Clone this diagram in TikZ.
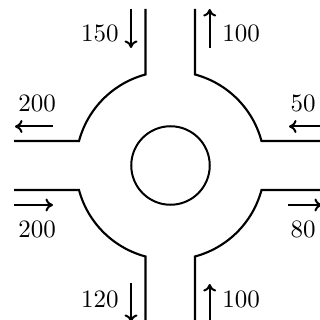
\documentclass[tikz,border=0pt]{standalone}
\usetikzlibrary{arrows.meta,positioning}
\begin{document}
\begin{tikzpicture}[x=0.4pt,y=0.4pt,road/.style={line width=0.85pt,line join=miter},arr/.style={line width=0.8pt,-{To[length=3pt,width=5.2pt]}},lab/.style={inner sep=0pt}]
\useasboundingbox (0,0) rectangle (320,320);
% roads
\draw[road] (145.5,311)--(145.5,245.5) arc[start angle=105,end angle=165,radius=94]--(14,179);
\draw[road] (195,311)--(195,245.5) arc[start angle=75,end angle=15,radius=94]--(322,179);
\draw[road] (14,130)--(79,130) arc[start angle=195,end angle=255,radius=94]--(145.5,-2);
\draw[road] (322,130)--(261.5,130) arc[start angle=-15,end angle=-75,radius=94]--(195,-2);
\node[draw,circle,line width=0.8pt,minimum size=31.4pt,inner sep=0pt] (isle) at (170.5,154.5) {};
% flow arrows
\coordinate (na) at (131,311);\coordinate (nb) at (131,272);
\coordinate (nc) at (209.7,272);\coordinate (nd) at (209.7,311);
\coordinate (wa) at (53,193.5);\coordinate (wb) at (15,193.5);
\coordinate (wc) at (14,115);\coordinate (wd) at (53,115);
\coordinate (ea) at (322,193.5);\coordinate (eb) at (289,193.5);
\coordinate (ec) at (288,115);\coordinate (ed) at (322,115);
\coordinate (sa) at (131,37);\coordinate (sb) at (131,-2);
\coordinate (sc) at (209.7,-2);\coordinate (sd) at (209.7,36);
\draw[arr] (na)--(nb);\draw[arr] (nc)--(nd);
\draw[arr] (wa)--(wb);\draw[arr] (wc)--(wd);
\draw[arr] (ea)--(eb);\draw[arr] (ec)--(ed);
\draw[arr] (sa)--(sb);\draw[arr] (sc)--(sd);
% volumes
\node[lab] (n1) at (100,287) {150};
\node[lab] (n2) at (241,287) {100};
\node[lab] (w1) at (37,217) {200};
\node[lab] (e1) at (303,217) {50};
\node[lab] (w2) at (37,91) {200};
\node[lab] (e2) at (303,91) {80};
\node[lab] (s1) at (100,21) {120};
\node[lab] (s2) at (241,21) {100};
\end{tikzpicture}
\end{document}
